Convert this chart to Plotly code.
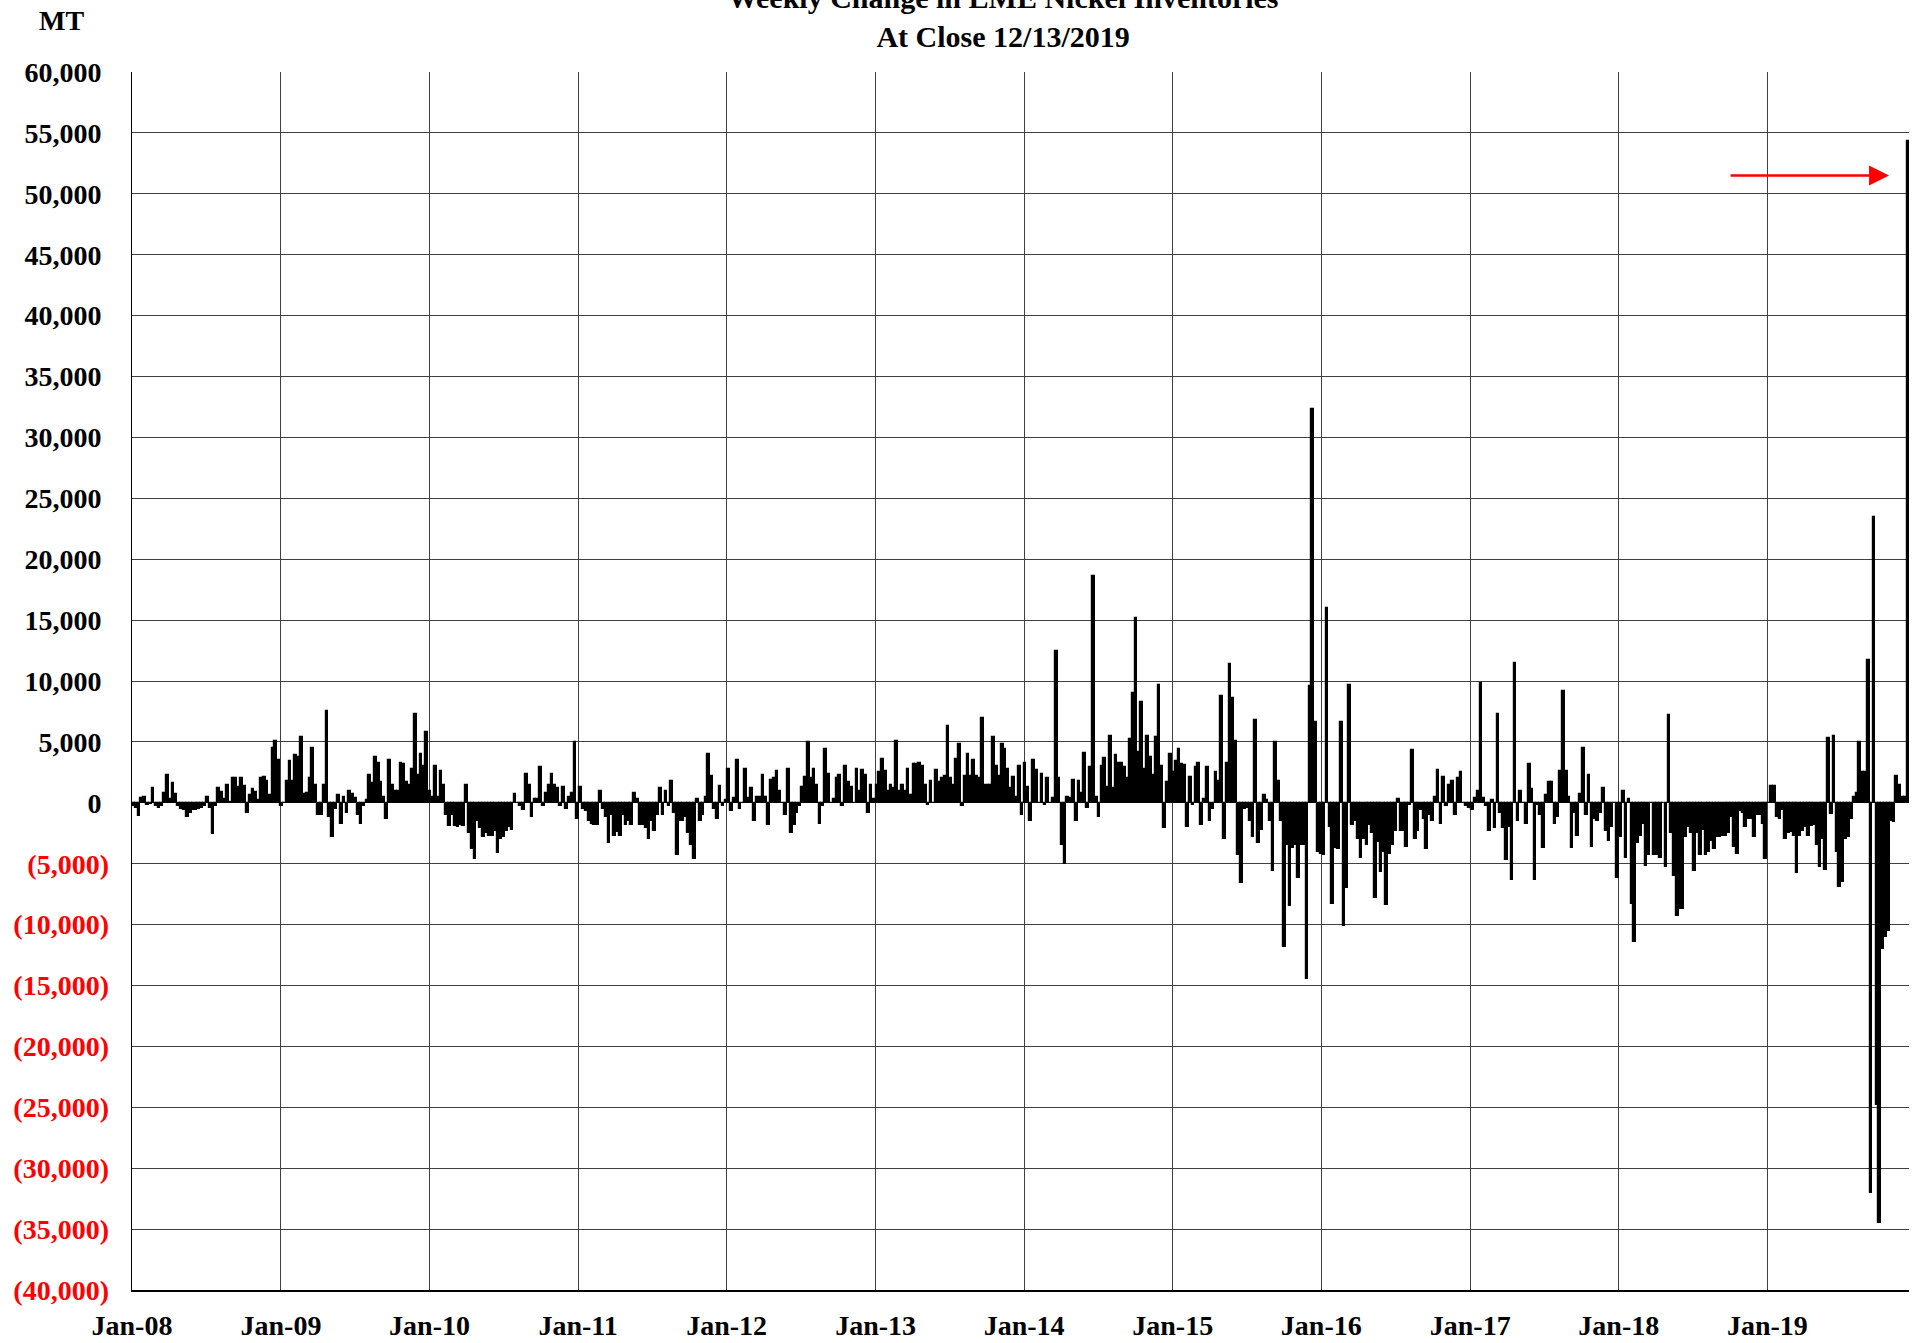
import pandas as pd
import plotly.graph_objects as go

# Weekly change in LME nickel inventories (metric tonnes), one list per calendar year
chg_2008 = [-300, -400, -1100, 400, 500, -200, -100, 1200, -300, -400,
            -300, 800, 2300, 300, 1600, 700, -300, -500, -600, -1200,
            -800, -600, -600, -500, -400, -300, 500, -400, -2600, -300,
            1200, 900, 300, 1500, 100, 2000, 2000, 1300, 2000, 1400,
            -800, 600, 1100, 900, 200, 2000, 2100, 1800, 600, 4500,
            5100, 3500]
chg_2009 = [-300, 0, 1800, 3400, 1800, 3900, 3800, 5400, 700, 800,
            2000, 4500, 1500, -1000, -1000, 1500, 7500, -1200, -2800, -500,
            600, -1700, 500, -800, 1000, 700, 400, -1000, -1700, -300,
            200, 2300, 1600, 3800, 3300, 1700, 500, -1300, 3500, 1500,
            1000, 1000, 3300, 3200, 1700, 1500, 2800, 7300, 2300, 4000,
            3000, 5800]
chg_2010 = [1000, 500, 3000, 500, 2600, 1500, -1000, -1900, -1000, -1900,
            -2000, -1800, -1900, 1500, -2500, -3800, -4600, -1500, -2100, -2800,
            -2500, -2700, -2700, -2300, -4100, -3000, -2800, -2300, -2000, -2200,
            700, 0, -300, -600, 2400, 1500, -1200, 300, 300, 2900,
            -300, 800, 1500, 2400, 1500, 1200, -300, 1300, -500, 500,
            800, 5000, -1300]
chg_2011 = [1300, -500, -700, -1500, -1700, -1800, -1800, 1000, -500, -1200,
            -3300, -1000, -2700, -2400, -2700, -1000, -1800, -1500, -1800, 800,
            300, -1800, -1800, -2100, -3000, -1500, -2300, -1000, 1200, -1000,
            1000, -300, 1800, -800, -4300, -1500, -1500, -1200, -2500, -3500,
            -4600, 300, -1500, -1000, 500, 4000, 2200, -500, -1300, 1400,
            -300, 200]
chg_2012 = [2800, -700, 400, 3500, -500, 0, 2800, 400, 1200, -1500,
            500, 500, 2300, 500, -1800, 1900, 2000, 2600, 1000, 0,
            -1000, 2800, -2500, -1800, -800, -300, 1300, 2100, 5000, 2000,
            2800, 1500, -1700, -300, 4400, 2400, 0, 300, 2000, 2300,
            -300, 3000, 1700, 1300, 0, 2800, 1000, 2700, 2300, -800,
            1500, 300]
chg_2013 = [1500, 2500, 3600, 2600, 1000, 1500, 1200, 5100, 1000, 1500,
            1000, 2800, 600, 3200, 3200, 3300, 3000, 1500, -200, 1800,
            0, 2700, 1700, 2000, 2200, 6300, 2000, 1500, 3600, 4800,
            -300, 2200, 4000, 2200, 3500, 2200, 2000, 7000, 1500, 1500,
            1500, 5400, 3000, 2200, 4800, 4400, 2800, 1200, 2100, 500,
            3000, -1000]
chg_2014 = [3300, 1300, -1500, 3500, 2700, 0, 2400, -200, 2000, 0,
            400, 12500, 2000, -3500, -5000, 500, 400, 1900, -1500, 1800,
            800, 4100, -400, 2900, 18600, 500, -1200, 3000, 3700, 1300,
            5500, 1200, 3900, 3300, 3300, 2900, 2000, 5200, 9000, 15200,
            4200, 8300, 2800, 5500, 3800, 2300, 5400, 9700, 3000, -2100,
            1700, 4000]
chg_2015 = [2500, 3400, 4400, 3200, 3100, -2000, 2100, -200, 2900, 3300,
            -1800, 300, 2900, -1500, -500, 2500, 1800, 8800, -3000, 3300,
            11400, 8600, 5100, -4300, -6600, -500, -400, -1500, -2800, 6800,
            -3300, -2200, 600, 200, -1500, -5600, 5000, 1800, -1500, -11800,
            -3500, -8500, -3700, -3500, -6200, -3500, -3500, -14500, 9600, 32300,
            6600, -4000]
chg_2016 = [-4200, -4300, 16000, -2000, -8300, -3700, -3800, 6600, -10100, -7000,
            9700, -1800, -1500, -3000, -4500, -3000, -3500, -1800, -2500, -7800,
            -3200, -5700, -4000, -8400, -4200, -3500, -2300, 300, -2300, -2300,
            -3600, -200, 4300, -3000, -2300, -600, -1300, -3800, -1000, -1500,
            500, 2700, -1700, 2100, -300, 1500, 1800, -1000, 2000, 2500,
            0, -300, -400]
chg_2017 = [-600, 400, 1000, 9800, 400, -300, -2300, 200, -2100, 7300,
            -800, -2100, -4700, -2000, -6300, 11500, -1500, 1000, 0, -1700,
            3200, 1100, -6300, -200, -1000, -3700, 600, 1700, 1700, -1700,
            -1200, 2600, 9200, 2600, 500, -3700, -800, -2700, 700, 4500,
            -1000, 2300, -3600, -1300, -1500, -800, 1200, -2300, -3100, -2000,
            0, -6200]
chg_2018 = [-2800, 1000, -4500, 300, -8300, -11400, -3300, -2700, -1700, -5200,
            -4300, 0, -4300, -4300, -4500, 0, -5300, 7200, -2500, -6000,
            -9300, -8700, -8700, -2800, -2000, -2500, -5600, -2500, -4300, -2200,
            -4300, -4000, -3100, -3800, -2800, -2800, -2700, -2700, -2500, -1200,
            -3600, -4200, -700, -800, -2000, -1300, -1300, -2800, -1000, -1000,
            -1700, -4600]
chg_2019 = [0, 1400, 1400, -1200, -1300, -600, -3000, -2500, -2400, -2700,
            -5800, -2700, -2300, -2000, -2700, -1900, -1800, -3500, -5300, -3000,
            -5500, 5300, -900, 5500, -4000, -6900, -6500, -3000, -2800, -1300,
            500, 800, 5000, 2500, 2500, 11700, -32000, 23500, -24800, -34500,
            -12000, -11000, -10500, -1500, -1600, 2200, 1500, 500, 500, 54300]

years = [2008, 2009, 2010, 2011, 2012, 2013, 2014, 2015, 2016, 2017, 2018, 2019]
yearly = [chg_2008, chg_2009, chg_2010, chg_2011, chg_2012, chg_2013,
          chg_2014, chg_2015, chg_2016, chg_2017, chg_2018, chg_2019]

pos_ticks = [0, 5000, 10000, 15000, 20000, 25000, 30000, 35000, 40000, 45000, 50000, 55000, 60000]
neg_ticks = [-5000, -10000, -15000, -20000, -25000, -30000, -35000, -40000]

title_line1 = "Weekly Change in LME Nickel Inventories"
title_line2 = "At Close 12/13/2019"
unit_label = "MT"

dates, values = [], []
for yr, vals in zip(years, yearly):
    d = pd.date_range(f"{yr}-01-01", periods=len(vals), freq="W-FRI")
    dates.extend(d)
    values.extend(vals)

FONT = "Liberation Serif"
TS = 28

fig = go.Figure()
fig.add_trace(go.Bar(x=dates, y=values, marker=dict(color="black", line=dict(width=1.2, color="black")),
                     width=6.5 * 86400000, showlegend=False))
fig.add_trace(go.Scatter(x=[dates[0]], y=[0], yaxis="y2", mode="markers",
                         marker=dict(opacity=0), showlegend=False, hoverinfo="skip"))

all_ticks = neg_ticks[::-1] + pos_ticks
fig.update_layout(
    width=1918, height=1343,
    margin=dict(l=132, r=9, t=72, b=53, autoexpand=False),
    paper_bgcolor="white", plot_bgcolor="white",
    bargap=0,
    title=dict(text=f"{title_line1}<br>{title_line2}", xref="container", x=0.523, xanchor="center",
               yref="container", y=1 - 8 / 1343, yanchor="bottom",
               font=dict(family=FONT, size=30, color="black", weight="bold")),
    xaxis=dict(type="date", range=["2008-01-01", "2019-12-15"], tick0="2008-01-01", dtick="M12",
               tickformat="%b-%y", showgrid=True, gridcolor="#404040", gridwidth=1,
               showline=True, linecolor="black", linewidth=2, ticks="", zeroline=False,
               automargin=False,
               tickfont=dict(family=FONT, size=TS, color="black", weight="bold"),
               ticklabelstandoff=9),
    yaxis=dict(range=[-40000, 60000], tickvals=all_ticks,
               ticktext=["" if v < 0 else f"{v:,}" for v in all_ticks],
               showgrid=True, gridcolor="#404040", gridwidth=1, zeroline=False,
               showline=True, linecolor="black", linewidth=1, ticks="", automargin=False,
               tickfont=dict(family=FONT, size=TS, color="black", weight="bold"),
               ticklabelstandoff=24),
    yaxis2=dict(range=[-40000, 60000], overlaying="y", side="left", tickvals=neg_ticks,
                ticktext=[f"({-v:,})" for v in neg_ticks], showgrid=False, zeroline=False,
                showline=False, ticks="", automargin=False,
                tickfont=dict(family=FONT, size=TS, color="#ff0000", weight="bold"),
                ticklabelstandoff=22),
)

fig.add_annotation(xref="paper", yref="paper", x=(61 - 132) / 1777, y=1 + (72 - 20) / 1218,
                   text=unit_label, showarrow=False, xanchor="center", yanchor="middle",
                   font=dict(family=FONT, size=TS, color="black", weight="bold"))

fig.add_annotation(x=pd.Timestamp("2019-10-27"), y=51500, xref="x", yref="y",
                   ax=-160, ay=0, axref="pixel", ayref="pixel", text="",
                   showarrow=True, arrowhead=2, arrowsize=1.6, arrowwidth=2.5,
                   arrowcolor="#ff0000", standoff=0)

fig.write_html("out.html", config={"displayModeBar": False},
               post_script="document.body.style.margin='0';document.body.style.overflow='hidden';")
